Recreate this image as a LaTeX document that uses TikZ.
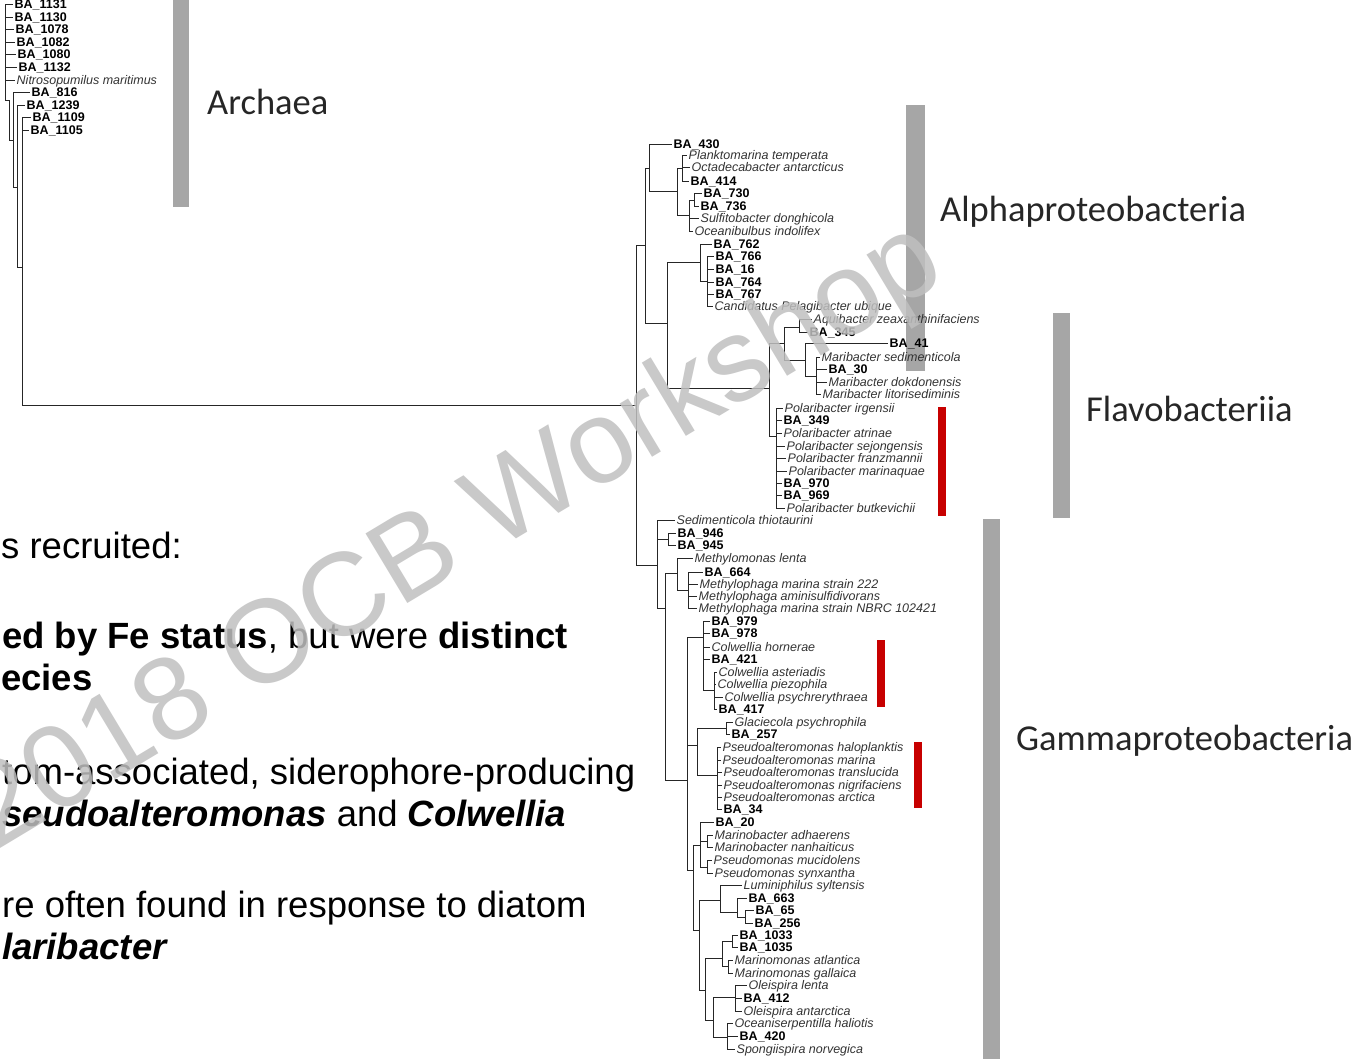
\documentclass[tikz,border=0pt]{standalone}
\usepackage{fontspec}
\setmainfont{Liberation Sans}
\newfontfamily\carlito{Carlito}
\usetikzlibrary{positioning}

\begin{document}
\begin{tikzpicture}[
    x=1pt, y=-1pt,
    br/.style={draw=black!85, line width=0.9pt},
    ba/.style={anchor=west, inner xsep=1.5pt, inner ysep=0pt,
            text height=9pt, text depth=0pt,
            font=\fontsize{12.5}{12.5}\selectfont\bfseries},
    sp/.style={ba, text=black!80, font=\fontsize{12.5}{12.5}\selectfont\itshape},
    clade/.style={fill=black!35},
    fe/.style={fill=red!78!black},
    taxon/.style={anchor=base west, inner sep=0pt, text=black!85,
            font=\carlito\fontsize{36.5}{36.5}\selectfont},
    say/.style={anchor=base west, inner sep=0pt,
            font=\fontsize{36.5}{40}\selectfont},
    wmark/.style={anchor=base west, inner sep=0pt, rotate=31,
            text=black!25, text opacity=0.85,
            font=\fontsize{118}{118}\selectfont}
]
\useasboundingbox (0,0) rectangle (1361,1059);

% clade bars
\fill[clade] (173,0) rectangle (189,207);
\fill[clade] (906,105) rectangle (925,371);
\fill[clade] (1053,313) rectangle (1070,518);
\fill[clade] (983,519) rectangle (1000,1059);
\fill[fe] (938,407) rectangle (946,516);
\fill[fe] (877,640) rectangle (885,707);
\fill[fe] (914,742) rectangle (922,808);

\node[taxon] (arch) at (207,115) {Archaea};
\node[taxon] (alpha) at (940,222) {Alphaproteobacteria};
\node[taxon] (flavo) at (1086,421) {Flavobacteriia};
\node[taxon] (gamma) at (1016,750) {Gammaproteobacteria};

% tips
\foreach \n/\x/\y in {1131/13/4, 1130/13/17, 1078/14/29, 1082/15/42, 1080/16/54,
        1132/17/67, 816/30/92, 1239/25/105, 1109/31/117, 1105/29/130,
        430/672/144, 414/689/181, 730/702/193, 736/699/206, 762/712/244,
        766/714/256, 16/714/269, 764/714/282, 767/714/294, 345/808/332,
        41/888/343, 30/827/369, 349/782/420, 970/782/483, 969/782/495,
        946/676/533, 945/676/545, 664/703/572, 979/710/621, 978/710/633,
        421/710/659, 417/717/709, 257/730/734, 34/722/809, 20/714/822,
        663/747/898, 65/754/910, 256/753/923, 1033/738/935, 1035/738/947,
        412/742/998, 420/738/1036}
    \node[ba] (b\n) at (\x,\y) {BA\_\n};

\foreach \n/\x/\y/\t in {nitro/15/80/Nitrosopumilus maritimus,
        plank/687/155/Planktomarina temperata,
        octa/690/167/Octadecabacter antarcticus,
        sulfi/699/218/Sulfitobacter donghicola,
        oceani/693/231/Oceanibulbus indolifex,
        pelag/713/306/Candidatus Pelagibacter ubique,
        aqui/812/319/Aquibacter zeaxanthinifaciens,
        marised/820/357/Maribacter sedimenticola,
        dokdo/827/382/Maribacter dokdonensis,
        litori/821/394/Maribacter litorisediminis,
        irg/783/408/Polaribacter irgensii,
        atri/782/433/Polaribacter atrinae,
        sejong/785/446/Polaribacter sejongensis,
        franz/786/458/Polaribacter franzmannii,
        marin/787/471/Polaribacter marinaquae,
        butk/785/508/Polaribacter butkevichii,
        sedi/675/520/Sedimenticola thiotaurini,
        methylo/693/558/Methylomonas lenta,
        mm222/698/584/Methylophaga marina strain 222,
        amini/697/596/Methylophaga aminisulfidivorans,
        nbrc/697/608/Methylophaga marina strain NBRC 102421,
        horn/710/647/Colwellia hornerae,
        aster/717/672/Colwellia asteriadis,
        piezo/716/684/Colwellia piezophila,
        psychr/723/697/Colwellia psychrerythraea,
        glac/733/722/Glaciecola psychrophila,
        halo/721/747/Pseudoalteromonas haloplanktis,
        pmar/721/760/Pseudoalteromonas marina,
        transl/722/772/Pseudoalteromonas translucida,
        nigri/722/785/Pseudoalteromonas nigrifaciens,
        arct/722/797/Pseudoalteromonas arctica,
        adh/713/835/Marinobacter adhaerens,
        nanh/713/847/Marinobacter nanhaiticus,
        mucid/712/860/Pseudomonas mucidolens,
        synx/713/873/Pseudomonas synxantha,
        lumin/742/885/Luminiphilus syltensis,
        atl/733/960/Marinomonas atlantica,
        gall/733/973/Marinomonas gallaica,
        olent/747/985/Oleispira lenta,
        oant/742/1011/Oleispira antarctica,
        ocean/733/1023/Oceaniserpentilla haliotis,
        spong/735/1049/Spongiispira norvegica}
    \node[sp] (\n) at (\x,\y) {\t};

% archaea ladder
\coordinate (ar1) at (5,100);
\coordinate (ar2) at (9,140);
\coordinate (ar3) at (13,187);
\coordinate (ar4) at (17,267);
\coordinate (root) at (22,405);
\foreach \c in {b1131,b1130,b1078,b1082,b1080,b1132,nitro}
    \draw[br] (ar1) |- (\c.west);
\draw[br] (ar1) -| (ar2) -| (ar3) -| (ar4) -| (root);
\draw[br] (ar3) |- (b816.west);
\draw[br] (ar4) |- (b1239.west);
\draw[br] (root) |- (b1109.west);
\draw[br] (root) |- (b1105.west);

% bacteria
\coordinate (B0) at (636,405);
\coordinate (N1) at (645,245);  \coordinate (N2) at (667,323);
\coordinate (R0) at (649,168);  \coordinate (R1) at (677,191);
\coordinate (R2) at (682,168);  \coordinate (R3) at (689,215);
\coordinate (R4) at (694,200);
\coordinate (S0) at (700,262);  \coordinate (S1) at (707,281);
\coordinate (F0) at (769,388);  \coordinate (P0) at (776,436);
\coordinate (M0) at (784,343);  \coordinate (M3) at (799,327);
\coordinate (M1) at (805,360);  \coordinate (M2) at (816,376);
\coordinate (G0) at (657,565);  \coordinate (Gp) at (668,539);
\coordinate (G1) at (665,608);  \coordinate (Me0) at (677,573);
\coordinate (Me1) at (688,590); \coordinate (G2) at (687,780);
\coordinate (C0) at (703,637);  \coordinate (C1) at (714,690);
\coordinate (Al0) at (697,745); \coordinate (Gl) at (726,728);
\coordinate (Ps) at (717,775);  \coordinate (G3) at (693,870);
\coordinate (Mb) at (700,845);  \coordinate (Mb1) at (707,841);
\coordinate (Mb2) at (707,867); \coordinate (G4) at (699,930);
\coordinate (L0) at (720,900);  \coordinate (L1) at (737,912);
\coordinate (L2) at (745,917);  \coordinate (G5) at (705,990);
\coordinate (Mm0) at (722,958); \coordinate (Mm1) at (732,941);
\coordinate (Mm2) at (728,966); \coordinate (G6) at (713,1020);
\coordinate (O1) at (735,997);  \coordinate (O2) at (727,1037);

\draw[br] (root) -- (B0);
\foreach \p/\c in {B0/N1, B0/G0, N1/R0, N1/N2, R0/R1, R1/R2, R1/R3, R3/R4,
        N2/S0, N2/F0, S0/S1, F0/M0, F0/P0, M0/M3, M0/M1, M1/M2,
        G0/Gp, G0/G1, G1/Me0, G1/G2, Me0/Me1, G2/C0, G2/Al0, G2/G3,
        C0/C1, Al0/Gl, Al0/Ps, G3/Mb, G3/G4, Mb/Mb1, Mb/Mb2, G4/L0,
        G4/G5, L0/L1, L1/L2, G5/Mm0, G5/G6, Mm0/Mm1, Mm0/Mm2, G6/O1, G6/O2}
    \draw[br] (\p) |- (\c);

\foreach \p/\c in {R0/b430, R2/plank, R2/octa, R2/b414, R3/sulfi, R3/oceani,
        R4/b730, R4/b736, S0/b762, S1/b766, S1/b16, S1/b764, S1/b767, S1/pelag,
        M3/aqui, M3/b345, M1/b41, M2/marised, M2/b30, M2/dokdo, M2/litori,
        P0/irg, P0/b349, P0/atri, P0/sejong, P0/franz, P0/marin, P0/b970,
        P0/b969, P0/butk, G0/sedi, Gp/b946, Gp/b945, Me0/methylo, Me1/b664,
        Me1/mm222, Me1/amini, Me1/nbrc, C0/b979, C0/b978, C0/horn, C0/b421,
        C1/aster, C1/piezo, C1/psychr, C1/b417, Gl/glac, Gl/b257, Ps/halo,
        Ps/pmar, Ps/transl, Ps/nigri, Ps/arct, Ps/b34, Mb/b20, Mb1/adh,
        Mb1/nanh, Mb2/mucid, Mb2/synx, L0/lumin, L1/b663, L2/b65, L2/b256,
        Mm1/b1033, Mm1/b1035, Mm2/atl, Mm2/gall, O1/olent, O1/b412, O1/oant,
        O2/ocean, O2/b420, O2/spong}
    \draw[br] (\p) |- (\c.west);

% slide text
\node[say] (l1) at (1,558) {s recruited:};
\node[say] (l2) at (2,648) {\textbf{ed by Fe status}, but were \textbf{distinct}};
\node[say] (l3) at (1,690) {\textbf{ecies}};
\node[say] (l4) at (2,784) {tom-associated, siderophore-producing};
\node[say] (l5) at (2,826) {\textbf{\textit{seudoalteromonas}} and \textbf{\textit{Colwellia}}};
\node[say] (l6) at (2,917) {re often found in response to diatom};
\node[say] (l7) at (2,959) {\textbf{\textit{laribacter}}};

\node[wmark] (wm) at (-5,852) {2018 OCB Workshop};
\end{tikzpicture}
\end{document}
